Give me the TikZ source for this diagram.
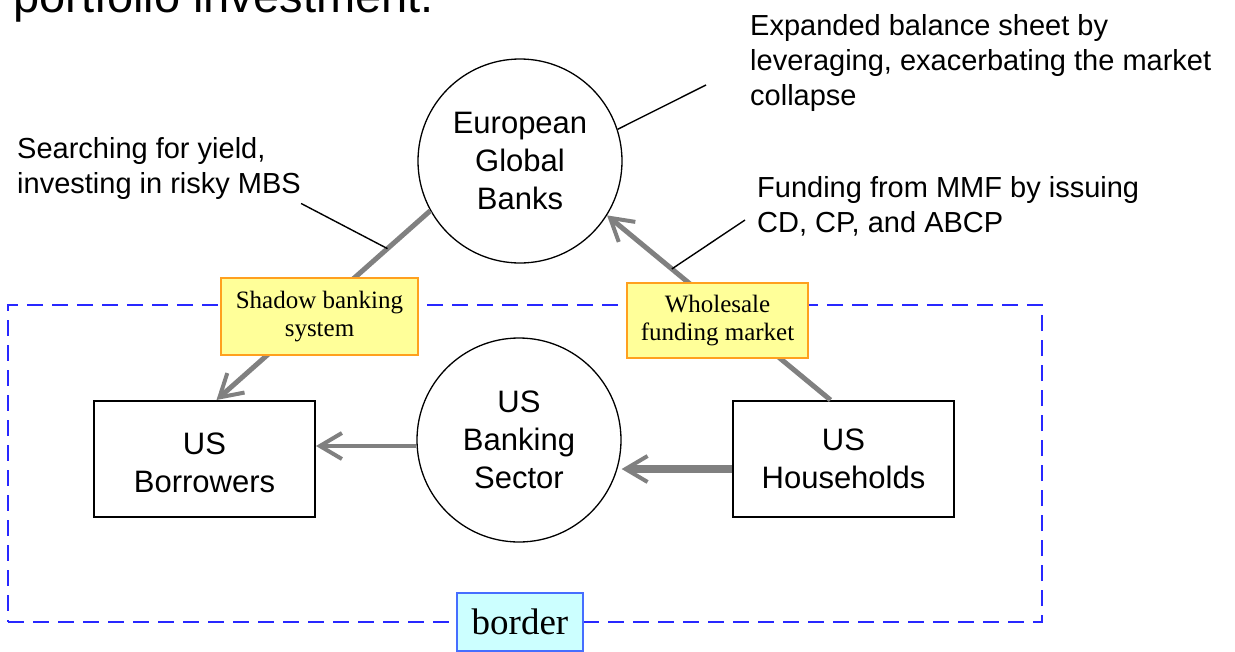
\documentclass[tikz,border=0pt]{standalone}
\usepackage{fontspec}
\setmainfont{Liberation Sans}
\newfontfamily\tagserif{Liberation Serif}
\usetikzlibrary{arrows.meta,calc}

\definecolor{flowgray}{RGB}{128,128,128}
\definecolor{frameblue}{RGB}{40,40,255}
\definecolor{marketfill}{RGB}{255,255,153}
\definecolor{marketedge}{RGB}{255,160,30}
\definecolor{tagfill}{RGB}{204,255,255}
\definecolor{tagedge}{RGB}{70,110,255}

\begin{document}
\begin{tikzpicture}[x=1pt,y=-1pt,
  actor/.style={circle, draw=black, line width=1.3pt, minimum size=204pt,
    inner sep=0pt, align=center, font=\fontsize{31}{38}\selectfont},
  party/.style={rectangle, draw=black, line width=2pt, minimum width=221pt,
    minimum height=116pt, inner sep=0pt, align=center,
    font=\fontsize{31}{38}\selectfont},
  flow/.style={draw=flowgray, line width=5pt,
    -{Straight Barb[length=22pt,width=26pt,line width=4pt]}},
  callout/.style={draw=black, line width=1.4pt},
  remark/.style={align=left, inner sep=0pt, anchor=north west,
    font=\fontsize{29}{35}\selectfont},
  market/.style={draw=marketedge, fill=marketfill, line width=2.2pt,
    align=center, inner sep=0pt, font=\tagserif\fontsize{25}{28}\selectfont},
  frame/.style={draw=frameblue, line width=2.4pt, dash pattern=on 16pt off 9pt},
  tag/.style={draw=tagedge, fill=tagfill, line width=2pt, inner sep=0pt,
    minimum width=126pt, minimum height=58pt,
    font=\tagserif\fontsize{37}{40}\selectfont}
]
\useasboundingbox (0,0) rectangle (1235,651);

% heading line running off the top edge
\begin{scope}
  \clip (0,0) rectangle (1235,651);
  \node[anchor=base west, inner sep=0pt, font=\fontsize{47}{56}\selectfont]
    (heading) at (13,12) {portfolio investment.};
\end{scope}

% border frame
\node[frame, minimum width=1034pt, minimum height=317pt, inner sep=0pt]
  (frame) at (525,463.5) {};

% actors
\node[actor] (eu)  at (520,161) {European\\Global\\Banks};
\node[actor] (usb) at (519,440) {US\\Banking\\Sector};
\node[party] (bor) at (204.5,459) {\\[-8pt]US\\Borrowers};
\node[party] (hh)  at (843.5,459) {US\\Households};

% flows
\coordinate (borTop) at ([xshift=12pt]bor.north);
\coordinate (hhTop)  at ([xshift=-13pt]hh.north);
\draw[flow] (eu.209) -- (borTop);
\draw[flow] (hhTop) -- (eu.-32);
\coordinate (usbOut) at ([yshift=-6pt]usb.west);
\draw[flow, line width=4pt] (usbOut) -- (usbOut -| bor.east);
\coordinate (hhOut) at ([yshift=-10pt]hh.west);
\draw[flow, line width=8pt] (hhOut) -- (hhOut -| usb.east);

% remarks and their callout lines
\node[remark] (expand) at (750,14)
  {Expanded balance sheet by\\leveraging, exacerbating the market\\collapse};
\coordinate (expandEnd) at (706,85);
\draw[callout] (eu.18) -- (expandEnd);

\node[remark] (search) at (17,137)
  {Searching for yield,\\investing in risky MBS};
\coordinate (searchEnd) at ($(eu.209)!0.2!(borTop)$);
\draw[callout] ([yshift=-4pt]search.south east) -- (searchEnd);

\node[remark] (funding) at (757,176)
  {Funding from MMF by issuing\\CD, CP, and ABCP};
\coordinate (fundStart) at (745,220);
\coordinate (fundEnd) at ($(hhTop)!0.71!(eu.-32)$);
\draw[callout] (fundStart) -- (fundEnd);

% market labels on the flows
\node[market, minimum width=197pt, minimum height=77pt] (shadow)
  at (319.5,316.5) {Shadow banking\\system};
\node[market, minimum width=181pt, minimum height=75pt] (wholesale)
  at (717.5,320.5) {Wholesale\\funding market};

% border tag
\node[tag] (border) at (520,622) {border};
\end{tikzpicture}
\end{document}
